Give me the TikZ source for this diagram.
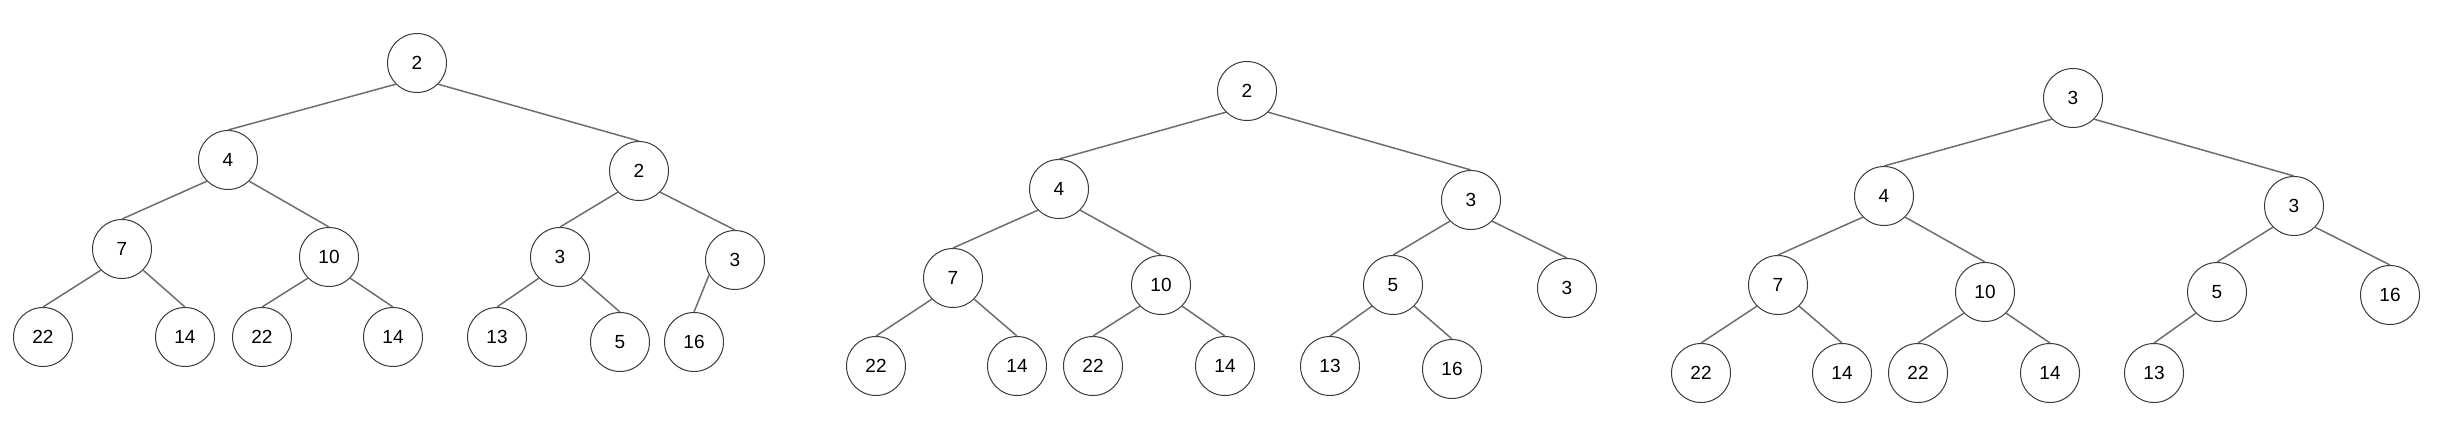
\documentclass[tikz,border=0pt]{standalone}
\usepackage{fontspec}
\setmainfont{Liberation Sans}
\usepackage{tikz}
\definecolor{edgecolor}{HTML}{6E6E6E}
\definecolor{ringcolor}{HTML}{3A3A3A}
\tikzset{
  heapnode/.style={circle,draw=ringcolor,line width=0.5pt,minimum size=29.5pt,inner sep=0pt,font=\fontsize{9.5}{11}\selectfont},
  heapedge/.style={draw=edgecolor,line width=0.75pt}
}

\begin{document}
\begin{tikzpicture}[x=0.5pt,y=-0.5pt]
  \useasboundingbox (0,0) rectangle (2451,434);
%% first heap
\foreach \n/\x/\y/\v in {a0/417/63/2, a1/228/160/4, a2/639/171/2, a3/122/249/7, a4/329/257/10,
    a5/560/257/3, a6/735/260/3, a7/43/337/22, a8/185/337/14, a9/262/337/22, a10/393/337/14,
    a11/497/337/13, a12/620/342/5, a13/694/342/16}
    \node[heapnode] (\n) at (\x,\y) {\v};
%% second heap
\foreach \n/\x/\y/\v in {b0/1247/91/2, b1/1059/189/4, b2/1471/200/3, b3/953/278/7, b4/1161/285/10,
    b5/1393/285/5, b6/1567/288/3, b7/876/366/22, b8/1017/366/14, b9/1093/366/22, b10/1225/366/14,
    b11/1330/366/13, b12/1452/369/16}
    \node[heapnode] (\n) at (\x,\y) {\v};
%% third heap
\foreach \n/\x/\y/\v in {c0/2073/98/3, c1/1884/196/4, c2/2294/206/3, c3/1778/285/7, c4/1985/292/10,
    c5/2217/292/5, c6/2390/295/16, c7/1701/373/22, c8/1842/373/14, c9/1918/373/22, c10/2050/373/14,
    c11/2154/373/13}
    \node[heapnode] (\n) at (\x,\y) {\v};
%% edges: parent anchor -> child top
\foreach \p/\a/\c in {a0/south west/a1, a0/south east/a2, a1/south west/a3, a1/south east/a4,
    a2/south west/a5, a2/south east/a6, a3/south west/a7, a3/south east/a8, a4/south west/a9,
    a4/south east/a10, a5/south west/a11, a5/south east/a12, a6/210/a13,
    b0/south west/b1, b0/south east/b2, b1/south west/b3, b1/south east/b4, b2/south west/b5,
    b2/south east/b6, b3/south west/b7, b3/south east/b8, b4/south west/b9, b4/south east/b10,
    b5/south west/b11, b5/south east/b12,
    c0/south west/c1, c0/south east/c2, c1/south west/c3, c1/south east/c4, c2/south west/c5,
    c2/south east/c6, c3/south west/c7, c3/south east/c8, c4/south west/c9, c4/south east/c10,
    c5/south west/c11}
    \draw[heapedge] (\p.\a) -- (\c.north);
\end{tikzpicture}
\end{document}
